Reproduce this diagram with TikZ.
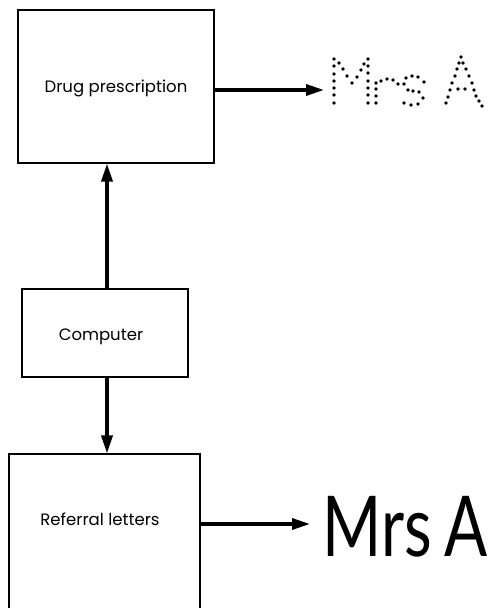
\documentclass[tikz,border=0pt]{standalone}
\usepackage{fontspec}
\setmainfont{Poppins}
\newfontfamily\bigfont{Lato}
\usetikzlibrary{arrows.meta}
\begin{document}
\begin{tikzpicture}[x=1pt,y=-1pt,
  box/.style={draw,line width=1.1pt,inner sep=0pt},
  lbl/.style={inner sep=0pt,font=\fontsize{16.5}{18}\selectfont},
  conn/.style={line width=3.4pt,-{Triangle[length=18pt,width=11pt]}},
  dotm/.style={fill=black}]
\useasboundingbox (0,0) rectangle (488,608);
% boxes
\node[box,minimum width=196pt,minimum height=153pt] (drug) at (116,86.5) {};
\node[lbl] (drugt) at (116,88) {Drug prescription};
\node[box,minimum width=166pt,minimum height=88pt] (comp) at (105,333) {};
\node[lbl] (compt) at (101,337) {Computer};
\node[box,minimum width=191pt,minimum height=170pt] (ref) at (104.5,539) {};
\node[lbl] (reft) at (100,519) {Referral letters};
% target texts
\coordinate (mrs1) at (324,90);
\node[anchor=base west,inner sep=0pt,xscale=0.76,font=\bigfont\fontsize{84}{86}\selectfont] (mrs2) at (322,556) {Mrs\kern-4pt{} A};
\coordinate (mrs2w) at (310,524);
% arrows
\draw[conn] (comp.north -| 107,0) -- (drug.south -| 107,0);
\draw[conn] (comp.south -| 107,0) -- (ref.north -| 107,0);
\draw[conn] (drug.east |- mrs1) -- (mrs1);
\draw[conn] (ref.east |- mrs2w) -- (mrs2w);
% dotted Mrs A
\foreach \p in {
  (334,59),(334,66),(334,74),(334,81),(334,88),(334,95),(334,103),
  (339,63),(343,69),(347,76),(352,83),(357,77),(361,70),(364,64),
  (368,59),(368,66),(368,73),(368,81),(368,88),(368,95),(368,103),
  (376,83),(376,89),(376,96),(376,103),(381,81),(387,79),(393,80),(398,84),
  (406,78),(412,76),(418,77),(424,82),(404,84),(408,90),(413,91),(419,92),
  (423,98),(418,104),(411,105),(404,103),
  (461,57),(459,63),(463,63),(457,69),(466,69),(455,76),(469,76),(452,83),(472,83),
  (458,89),(465,89),(450,90),(474,90),(448,97),(476,96),(446,103),(479,101),(482,106)}
  \fill[dotm] \p circle (1.8);
\end{tikzpicture}
\end{document}
